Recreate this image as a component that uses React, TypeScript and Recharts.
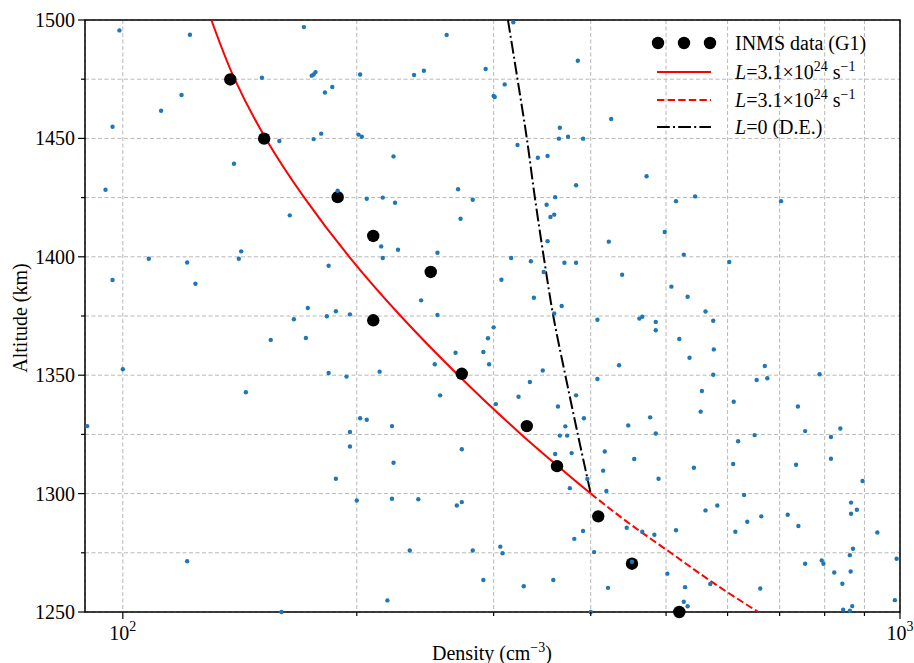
import React from "react";
import {
  ComposedChart,
  Scatter,
  XAxis,
  YAxis,
  CartesianGrid,
  ReferenceArea,
} from "recharts";

// [density (cm^-3), altitude (km)]
const inmsPoints: [number, number][] = [
  [137.5, 1474.9], [152, 1449.9], [189, 1425.2], [210, 1408.8],
  [249, 1393.6], [210, 1373.2], [273, 1350.6], [331, 1328.5],
  [362, 1311.6], [409, 1290.4], [452, 1270.4], [520, 1250],
];

const modelSolid: [number, number][] = [
  [130, 1500], [139.3, 1475], [152.7, 1450], [171.2, 1425], [195.6, 1400],
  [227.8, 1375], [270.2, 1350], [325.6, 1325], [400, 1300],
];

const modelDashed: [number, number][] = [
  [400, 1300], [448, 1287.5], [507, 1275], [574, 1262.5], [657, 1250],
];

const diffusiveEq: [number, number][] = [
  [313, 1500], [322, 1475], [331, 1450], [339, 1425], [348, 1400],
  [358, 1375], [371, 1350], [385, 1325], [400, 1300],
];

const backgroundPoints: [number, number][] = [
  [99, 1495.6], [122, 1493.8], [171, 1497], [151, 1475.6], [175, 1476.5],
  [176, 1477], [177, 1478], [202, 1477], [186, 1471.7], [182, 1469.4],
  [119, 1468.3], [112, 1461.7], [97, 1454.9], [180, 1452], [176, 1449.7],
  [159, 1448.9], [201, 1451.6], [203, 1450.7], [139, 1439.3], [95, 1428.3],
  [189, 1427.9], [164, 1417.5], [142, 1402.3], [141, 1399.2], [108, 1399.2],
  [121, 1397.6], [184, 1396.2], [97, 1390.2], [124, 1388.6], [173, 1378.4],
  [183, 1374.9], [188, 1377], [196, 1375.7], [166, 1373.6],
  [155, 1364.9], [172, 1365.7], [100, 1352.5], [144, 1342.8], [184, 1350.9],
  [194, 1349.4], [202, 1331.8], [196, 1326], [196, 1319.9], [188, 1306.3],
  [200, 1297.1], [121, 1271.4], [160, 1250], [90, 1328.5],
  [318, 1499], [261, 1493.7], [385, 1482.8], [237, 1476.8], [244, 1478.6],
  [293, 1479.3], [310, 1472.8], [300, 1467.9], [301, 1467.5], [425, 1458.2],
  [365, 1454.5], [364, 1449.9], [374, 1450.7], [391, 1449.9], [322, 1447.2],
  [223, 1442.4], [342, 1441.8], [352, 1442.6], [383, 1430.2], [270, 1428.5],
  [206, 1424.5], [216, 1425], [224, 1422.8], [282, 1424.1], [360, 1425.2],
  [351, 1422], [355, 1416.8], [359, 1417.8], [272, 1416.1], [352, 1406.6],
  [422, 1406.4], [215, 1404.4], [226, 1403], [254, 1401.7], [216, 1399.5],
  [316, 1399.5], [335, 1398.1], [370, 1397.5], [383, 1397.5], [348, 1393.6],
  [439, 1392.4], [307, 1390.3], [242, 1381.6], [338, 1382.7], [367, 1379.2],
  [359, 1376.1], [254, 1375.4], [408, 1373.4],
  [300, 1370.2], [295, 1365.6], [268, 1359.5], [291, 1359.8], [296, 1354.6],
  [252, 1354.6], [214, 1351.5], [347, 1352], [435, 1354.2], [408, 1348.4],
  [334, 1347.1], [256, 1341.5], [323, 1340.9], [383, 1341.5], [302, 1337.8],
  [363, 1336.8], [206, 1331.2], [222, 1328.5], [392, 1331.8], [447, 1328.8],
  [371, 1328.4], [365, 1324.5], [373, 1324.5], [273, 1318.7], [360, 1316.7],
  [378, 1317.1], [417, 1317.8], [455, 1314.6], [223, 1313], [415, 1309.7],
  [396, 1306.2], [376, 1302.3], [419, 1301.1], [222, 1297.8], [240, 1297.6],
  [269, 1295], [273, 1296.4], [445, 1285.6], [391, 1284.2], [381, 1280.9],
  [234, 1276], [282, 1276], [306, 1277.6], [308, 1274.8], [404, 1275.3],
  [291, 1263.5], [328, 1260.9], [358, 1263.5], [421, 1260.2], [219, 1254.9],
  [400, 1250], [452, 1271.2],
  [472, 1434], [515, 1423.5], [545, 1425.5], [703, 1423.5], [498, 1410.5],
  [527, 1400.9], [603, 1397.8], [508, 1387.4], [533, 1383.1], [562, 1376.9],
  [462, 1373.9], [466, 1374.7], [575, 1373], [485, 1372.5], [485, 1369],
  [520, 1365.3], [536, 1357.4], [576, 1360.9], [670, 1353.9], [654, 1348],
  [675, 1348.7], [575, 1350.2], [788, 1350.4], [556, 1343.3], [611, 1338.8],
  [739, 1336.8], [477, 1332.2], [554, 1334.6], [485, 1325.4], [650, 1324.7],
  [755, 1326.4], [838, 1327.5], [815, 1323.9], [619, 1322.1], [543, 1310.9],
  [610, 1312.5], [735, 1312.2], [815, 1314.7], [489, 1306.3], [895, 1305.3],
  [630, 1299.4], [562, 1292.9], [582, 1295], [865, 1296.2], [865, 1291.5],
  [880, 1293.2], [663, 1290.4], [717, 1291.1], [636, 1288.1], [740, 1286.3],
  [466, 1283.9], [483, 1282.6], [515, 1284.5], [614, 1283.9], [935, 1283.6],
  [870, 1276.7], [862, 1274], [864, 1267.1], [990, 1272.5], [755, 1270.4],
  [793, 1271.8], [797, 1270.4], [823, 1266.7], [502, 1266.2], [843, 1261.9],
  [529, 1260.5], [570, 1261.8], [661, 1259.9], [527, 1254.3], [533, 1252.4],
  [985, 1255], [845, 1251], [862, 1250.5], [868, 1252.5],
];

const xTicks = [100, 200, 300, 400, 500, 600, 700, 800, 900, 1000];
const yTicks = [1250, 1275, 1300, 1325, 1350, 1375, 1400, 1425, 1450, 1475, 1500];
const xDomain: [number, number] = [89.4, 1000];
const yDomain: [number, number] = [1250, 1500];

const FONT = "'Liberation Serif', 'Times New Roman', serif";

const toRows = (pts: [number, number][]) => pts.map(([d, alt]) => ({ d, alt }));

const NoDot = () => null;

const BlueDot = (p: any) => <circle cx={p.cx} cy={p.cy} r={2.2} fill="#1f77b4" />;
const BlackDot = (p: any) => <circle cx={p.cx} cy={p.cy} r={6.2} fill="#000" />;

function XTick(props: any) {
  const { x, y, payload } = props;
  const v = payload.value;
  const major = v === 100 || v === 1000;
  return (
    <g>
      <line x1={x} x2={x} y1={y} y2={y + (major ? 7 : 4)} stroke="#000" strokeWidth={1.2} />
      {major && (
        <text x={x} y={y + 28} textAnchor="middle" fontSize={20} fontFamily={FONT} fill="#000">
          10
          <tspan dy={-9} fontSize={14}>
            {v === 100 ? "2" : "3"}
          </tspan>
        </text>
      )}
    </g>
  );
}

function YTick(props: any) {
  const { x, y, payload } = props;
  const v = payload.value;
  const major = v % 50 === 0;
  return (
    <g>
      <line x1={x - (major ? 7 : 4)} x2={x} y1={y} y2={y} stroke="#000" strokeWidth={1.2} />
      {major && (
        <text x={x - 10} y={y + 7} textAnchor="end" fontSize={20} fontFamily={FONT} fill="#000">
          {v}
        </text>
      )}
    </g>
  );
}

export default function App() {
  return (
    <div style={{ position: "absolute", left: 0, top: 0, width: 914, height: 663 }}>
      <ComposedChart
        width={914}
        height={663}
        margin={{ top: 20, right: 14, left: 0, bottom: 0 }}
      >
        <CartesianGrid stroke="#b8b8b8" strokeDasharray="4 2.5" strokeWidth={1} />
        <XAxis
          dataKey="d"
          type="number"
          scale="log"
          domain={xDomain}
          ticks={xTicks}
          interval={0}
          height={51}
          tickSize={0}
          tickMargin={0}
          axisLine={false}
          tickLine={false}
          tick={<XTick />}
        />
        <YAxis
          dataKey="alt"
          type="number"
          domain={yDomain}
          ticks={yTicks}
          interval={0}
          width={85}
          tickSize={0}
          tickMargin={0}
          axisLine={false}
          tickLine={false}
          tick={<YTick />}
        />
        <Scatter
          data={toRows(modelSolid)}
          shape={NoDot}
          line={{ stroke: "#ff0000", strokeWidth: 2 }}
          lineJointType="monotoneY"
          isAnimationActive={false}
        />
        <Scatter
          data={toRows(modelDashed)}
          shape={NoDot}
          line={{ stroke: "#ff0000", strokeWidth: 2, strokeDasharray: "7.4 3.2" }}
          lineJointType="monotoneY"
          isAnimationActive={false}
        />
        <Scatter
          data={toRows(diffusiveEq)}
          shape={NoDot}
          line={{ stroke: "#000", strokeWidth: 2, strokeDasharray: "12.8 3.2 2 3.2" }}
          lineJointType="monotoneY"
          isAnimationActive={false}
        />
        <Scatter data={toRows(inmsPoints)} shape={BlackDot} isAnimationActive={false} />
        <Scatter data={toRows(backgroundPoints)} shape={BlueDot} isAnimationActive={false} />
        <ReferenceArea
          x1={xDomain[0]}
          x2={xDomain[1]}
          y1={yDomain[0]}
          y2={yDomain[1]}
          fill="none"
          fillOpacity={0}
          stroke="#000"
          strokeWidth={1.5}
        />
      </ComposedChart>
      <svg
        width={914}
        height={663}
        style={{ position: "absolute", left: 0, top: 0, pointerEvents: "none" }}
        fontFamily={FONT}
        fontSize={20}
      >
        <text transform="translate(27,318) rotate(-90)" textAnchor="middle" fill="#000">
          Altitude (km)
        </text>
        <text x={492} y={660} textAnchor="middle" fill="#000">
          Density (cm
          <tspan dy={-8} fontSize={14}>
            −3
          </tspan>
          <tspan dy={8}>)</tspan>
        </text>
        <g>
          <circle cx={658} cy={43} r={6.2} fill="#000" />
          <circle cx={684} cy={43} r={6.2} fill="#000" />
          <circle cx={710} cy={43} r={6.2} fill="#000" />
          <text x={735} y={50} fill="#000">INMS data (G1)</text>
          <line x1={657} x2={711} y1={72} y2={72} stroke="#ff0000" strokeWidth={2} />
          <text x={735} y={79} fill="#000">
            <tspan fontStyle="italic">L</tspan>=3.1×10
            <tspan dy={-8} fontSize={14}>24</tspan>
            <tspan dy={8}> s</tspan>
            <tspan dy={-8} fontSize={14}>−1</tspan>
          </text>
          <line x1={657} x2={711} y1={100} y2={100} stroke="#ff0000" strokeWidth={2} strokeDasharray="7.4 3.2" />
          <text x={735} y={107} fill="#000">
            <tspan fontStyle="italic">L</tspan>=3.1×10
            <tspan dy={-8} fontSize={14}>24</tspan>
            <tspan dy={8}> s</tspan>
            <tspan dy={-8} fontSize={14}>−1</tspan>
          </text>
          <line x1={657} x2={711} y1={127} y2={127} stroke="#000" strokeWidth={2} strokeDasharray="12.8 3.2 2 3.2" />
          <text x={735} y={134} fill="#000">
            <tspan fontStyle="italic">L</tspan>=0 (D.E.)
          </text>
        </g>
      </svg>
    </div>
  );
}
